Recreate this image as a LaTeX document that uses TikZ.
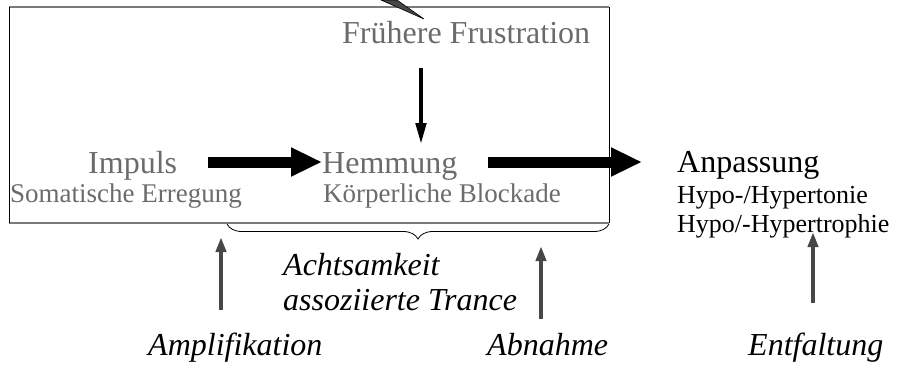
\documentclass[tikz,border=0pt]{standalone}
\usepackage{fontspec}
\setmainfont{Liberation Serif}
\usetikzlibrary{arrows.meta,decorations.pathreplacing}
\definecolor{labelgray}{HTML}{6B6B6B}
\definecolor{arrowgray}{HTML}{474747}
\definecolor{framegray}{HTML}{7A7A7A}
\begin{document}
\begin{tikzpicture}[x=1pt,y=-1pt,
  txt/.style={inner sep=0pt, anchor=base west},
  bigtext/.style={txt, font=\fontsize{32}{36}\selectfont},
  subtext/.style={txt, font=\fontsize{27}{30}\selectfont},
  smalltext/.style={txt, font=\fontsize{26}{30}\selectfont},
  ittext/.style={txt, font=\fontsize{32}{36}\selectfont\itshape},
  fatarrow/.style={line width=11pt, -{Triangle[length=31pt 0, width=27pt 0]}},
  downarrow/.style={line width=4.5pt, -{Triangle[length=22pt 0, width=10pt 0]}},
  uparrow/.style={arrowgray, line width=4.5pt, -{Triangle[length=15pt 0, width=10pt 0]}}
]
\useasboundingbox (0,0) rectangle (898,373);

% frame around the inner process
\draw[framegray, line width=1.5pt] (9,7) -- (609,7);
\draw[framegray, line width=1.5pt] (9,223) -- (609,223);
\draw[black, line width=1pt] (9,7) -- (9,223);
\draw[black, line width=1pt] (609,7) -- (609,223);

% incoming wedge at the top edge
\filldraw[fill=arrowgray, draw=black, line width=0.6pt] (381,0) -- (397,0) -- (424,19) -- cycle;

% labels
\node[bigtext, text=labelgray] (frust) at (342,43) {Frühere Frustration};
\node[bigtext, text=labelgray] (impuls) at (88,173) {Impuls};
\node[subtext, text=labelgray] (soma) at (10,202) {Somatische Erregung};
\node[bigtext, text=labelgray] (hemm) at (322,173) {Hemmung};
\node[subtext, text=labelgray] (koerp) at (323,202) {Körperliche Blockade};
\node[bigtext] (anp) at (677,172) {Anpassung};
\node[smalltext] (tonie) at (677,203) {Hypo-/Hypertonie};
\node[smalltext] (trophie) at (677,232) {Hypo/-Hypertrophie};
\node[ittext] (acht) at (283,275) {Achtsamkeit};
\node[ittext] (trance) at (283,310) {assoziierte Trance};
\node[ittext] (ampl) at (148,355) {Amplifikation};
\node[ittext] (abn) at (487,355) {Abnahme};
\node[ittext] (entf) at (748,355) {Entfaltung};

% connector end points
\coordinate (a1s) at (208,162);
\coordinate (a1e) at (322,162);
\coordinate (a2s) at (488,162);
\coordinate (a2e) at (642,162);
\coordinate (fs) at (421,68);
\coordinate (fe) at (421,145);
\coordinate (u1s) at (221,310);
\coordinate (u1e) at (221,237);
\coordinate (u2s) at (541,319);
\coordinate (u2e) at (541,246);
\coordinate (u3s) at (813,303);
\coordinate (u3e) at (813,232);

\draw[fatarrow] (a1s) -- (a1e);
\draw[fatarrow] (a2s) -- (a2e);
\draw[downarrow] (fs) -- (fe);
\draw[uparrow] (u1s) -- (u1e);
\draw[uparrow] (u2s) -- (u2e);
\draw[uparrow] (u3s) -- (u3e);

% brace below the frame
\draw[black, line width=0.8pt, decorate, decoration={brace, amplitude=15pt}] (609,224) -- (227,224);
\end{tikzpicture}
\end{document}
